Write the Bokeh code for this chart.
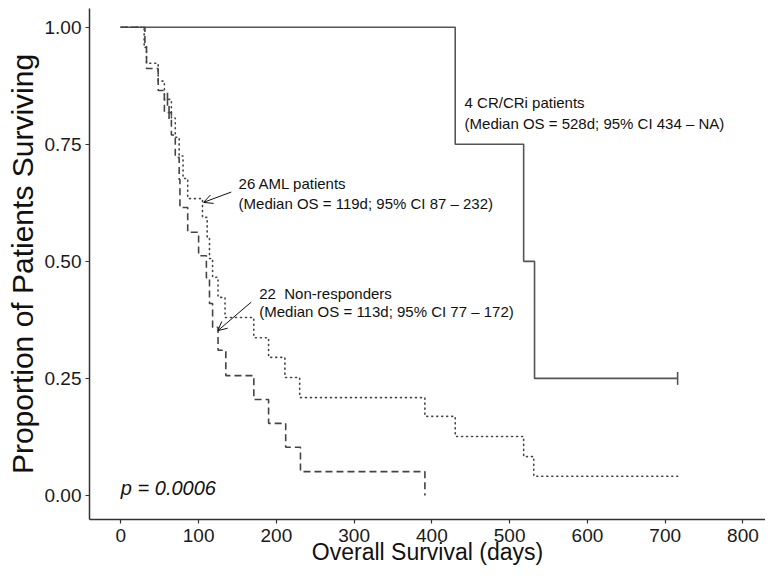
import numpy as np
from bokeh.plotting import figure
from bokeh.models import (Range1d, FixedTicker, Label, Arrow, OpenHead,
                          NumeralTickFormatter, Title)
from bokeh.embed import file_html
from bokeh.resources import INLINE

# ---- data ----
# 4 CR/CRi patients (solid)
cr_time = [0, 430, 518, 532, 716]
cr_surv = [1.0, 0.75, 0.50, 0.25, 0.25]
cr_censor_time = [716]
cr_censor_surv = [0.25]

# 26 AML patients (dotted)
aml_time = [0, 30, 33, 48, 56, 65, 70, 75, 80, 86, 105, 111, 114, 118, 125, 134,
            171, 190, 211, 230, 391, 430, 518, 531, 716]
aml_surv = [1.0, 0.962, 0.923, 0.885, 0.846, 0.806, 0.765, 0.725, 0.677, 0.634, 0.594,
            0.551, 0.506, 0.466, 0.423, 0.380, 0.337, 0.295, 0.252, 0.209, 0.169,
            0.126, 0.083, 0.041, 0.041]
aml_censor_time = [60]
aml_censor_surv = [0.846]

# 22 Non-responders (dashed)
nr_time = [0, 31, 33, 48, 56, 65, 70, 75, 76, 86, 100, 110, 114, 118, 125, 135,
           171, 190, 212, 231, 391]
nr_surv = [1.0, 0.957, 0.912, 0.865, 0.818, 0.770, 0.722, 0.675, 0.615, 0.562, 0.512,
           0.465, 0.410, 0.359, 0.310, 0.256, 0.205, 0.154, 0.103, 0.051, 0.0]
nr_censor_time = [62]
nr_censor_surv = [0.818]

x_ticks = [0, 100, 200, 300, 400, 500, 600, 700, 800]
y_ticks = [0.0, 0.25, 0.50, 0.75, 1.0]

FONT = "Liberation Sans"
TXT = "#111111"
LINE = "#444444"

p = figure(frame_width=676, frame_height=511,
           x_range=Range1d(-40.3, 829), y_range=Range1d(-0.0513, 1.04),
           output_backend="svg", toolbar_location=None,
           min_border_left=89, min_border_right=0, min_border_top=8, min_border_bottom=5)
p.outline_line_color = None
p.xgrid.grid_line_color = None
p.ygrid.grid_line_color = None
p.background_fill_color = "white"
p.border_fill_color = "white"

for ax in (p.xaxis[0], p.yaxis[0]):
    ax.axis_line_color = "#333333"
    ax.axis_line_width = 1.5
    ax.major_tick_line_color = "#333333"
    ax.major_tick_line_width = 1.2
    ax.major_tick_out = 4
    ax.major_tick_in = 0
    ax.minor_tick_line_color = None
    ax.major_label_text_font = FONT
    ax.major_label_text_color = "#1a1a1a"
    ax.major_label_text_font_size = "19px"
    ax.axis_label_text_font = FONT
    ax.axis_label_text_font_style = "normal"
    ax.axis_label_text_color = "#111111"

p.xaxis.ticker = FixedTicker(ticks=x_ticks)
p.yaxis.ticker = FixedTicker(ticks=y_ticks)
p.yaxis.formatter = NumeralTickFormatter(format="0.00")
p.xaxis.axis_label = "Overall Survival (days)"
p.xaxis.axis_label_text_font_size = "23px"
p.xaxis.major_label_standoff = 5
p.yaxis.major_label_standoff = 4
p.xaxis.axis_label_standoff = -6

# y-axis title as a left-side title panel, outside the tick labels
p.add_layout(Title(text="Proportion of Patients Surviving", align="center",
                   text_font=FONT, text_font_size="30px", text_font_style="normal",
                   text_color="#111111", standoff=5), "left")

# curves
p.step(cr_time, cr_surv, mode="after", line_color="#555555", line_width=1.6)
p.step(aml_time, aml_surv, mode="after", line_color=LINE, line_width=1.6,
       line_dash="1 4", line_cap="round")
p.step(nr_time, nr_surv, mode="after", line_color=LINE, line_width=1.6, line_dash="7 4")

# censor marks
for t, s, c in ((cr_censor_time, cr_censor_surv, "#555555"),
                (aml_censor_time, aml_censor_surv, LINE),
                (nr_censor_time, nr_censor_surv, LINE)):
    p.scatter(t, s, marker="dash", angle=np.pi / 2, size=13, line_color=c, line_width=1.6)

# annotations
def lab(x, y, text, size="15px", style="normal"):
    p.add_layout(Label(x=x, y=y, text=text, text_font=FONT, text_font_size=size,
                       text_font_style=style, text_color=TXT, text_baseline="middle",
                       text_align="left"))

lab(442, 0.839, "4 CR/CRi patients")
lab(442, 0.795, "(Median OS = 528d; 95% CI 434 \u2013 NA)")
lab(151.4, 0.666, "26 AML patients")
lab(151.4, 0.623, "(Median OS = 119d; 95% CI 87 \u2013 232)")
lab(178, 0.432, "22\u00a0 Non-responders")
lab(178, 0.393, "(Median OS = 113d; 95% CI 77 \u2013 172)")
lab(0, 0.017, "p = 0.0006", size="20px", style="italic")

p.add_layout(Arrow(end=OpenHead(size=9, line_width=1, line_color="#111111"),
                   x_start=142, y_start=0.648, x_end=106.4, y_end=0.626,
                   line_width=1, line_color="#111111"))
p.add_layout(Arrow(end=OpenHead(size=9, line_width=1, line_color="#111111"),
                   x_start=167.7, y_start=0.413, x_end=124.8, y_end=0.352,
                   line_width=1, line_color="#111111"))

open("out.html", "w").write(file_html(p, INLINE))
